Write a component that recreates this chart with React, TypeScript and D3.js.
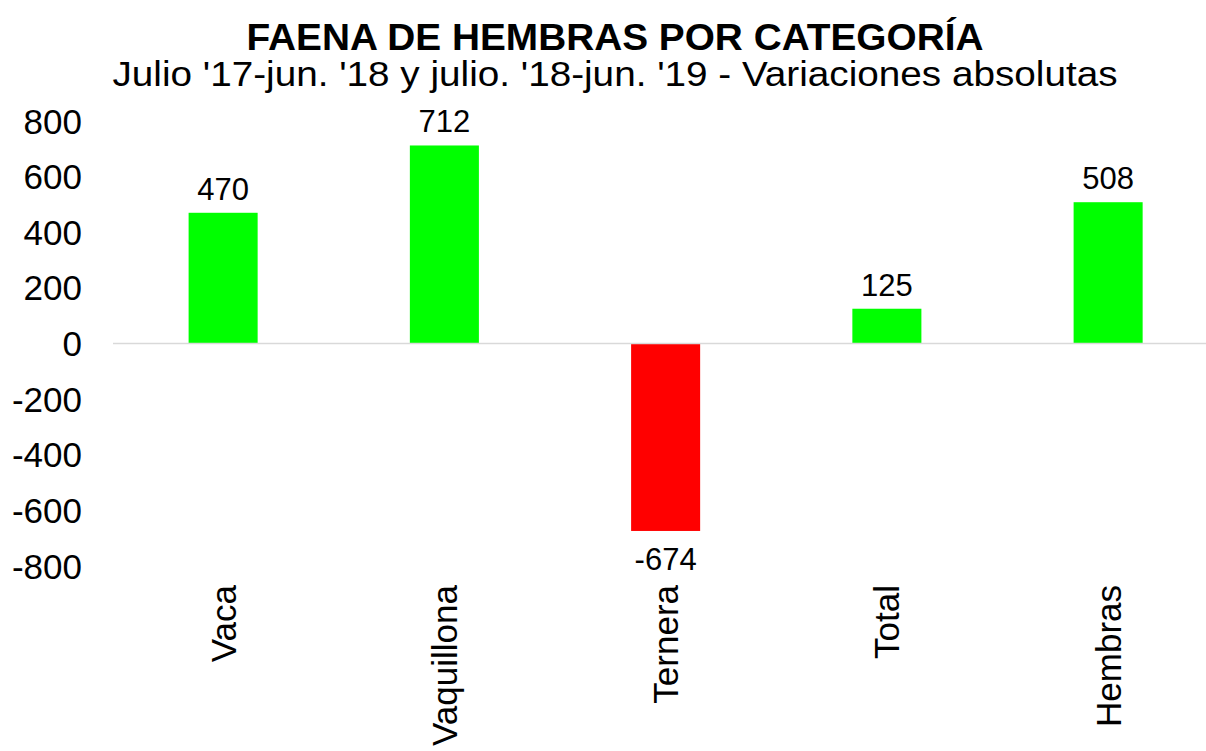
import React from 'react';
import * as d3 from 'd3';

const categories = ['Vaca', 'Vaquillona', 'Ternera', 'Total', 'Hembras'];
const values = [470, 712, -674, 125, 508];
const yTicks = [-800, -600, -400, -200, 0, 200, 400, 600, 800];
const title = 'FAENA DE HEMBRAS POR CATEGORÍA';
const subtitle = "Julio '17-jun. '18 y julio. '18-jun. '19 - Variaciones absolutas";

const W = 1206;
const H = 751;
const font = '"Liberation Sans", Arial, sans-serif';

const App = () => {
  // plot area
  const x = d3.scaleBand()
    .domain(categories)
    .range([112.5, 1218.75])
    .paddingInner(0.688)
    .paddingOuter(0.344);

  const y = d3.scaleLinear()
    .domain([-800, 800])
    .range([566, 121]);

  return (
    <svg width={W} height={H} style={{ position: 'absolute', left: 0, top: 0, background: '#fff' }} fontFamily={font}>
      <rect width={W} height={H} fill="#fff" />
      <text x={615} y={50} textAnchor="middle" fontSize={37} fontWeight="bold" fill="#000"
        textLength={737} lengthAdjust="spacingAndGlyphs">{title}</text>
      <text x={615} y={86} textAnchor="middle" fontSize={35} fill="#000"
        textLength={1005} lengthAdjust="spacingAndGlyphs">{subtitle}</text>

      {/* y axis labels */}
      {yTicks.map(t => (
        <text key={t} x={82} y={y(t)} textAnchor="end" dominantBaseline="central" fontSize={35} fill="#000">{t}</text>
      ))}

      {/* bars */}
      {categories.map((c, i) => {
        const v = values[i];
        return (
          <rect key={c}
            x={x(c)}
            y={y(Math.max(0, v))}
            width={x.bandwidth()}
            height={Math.abs(y(v) - y(0))}
            fill={v >= 0 ? '#00ff00' : '#ff0000'} />
        );
      })}

      {/* zero line */}
      <line x1={113} x2={W} y1={y(0)} y2={y(0)} stroke="#d9d9d9" strokeWidth={1.5} />

      {/* data labels */}
      {categories.map((c, i) => {
        const v = values[i];
        const cx = x(c) + x.bandwidth() / 2;
        return (
          <text key={c} x={cx} y={v >= 0 ? y(v) - 13 : y(v) + 39} textAnchor="middle" fontSize={31} fill="#000">{v}</text>
        );
      })}

      {/* category labels */}
      {categories.map(c => {
        const cx = x(c) + x.bandwidth() / 2;
        return (
          <text key={c} transform={`translate(${cx},585) rotate(-90)`} textAnchor="end" dominantBaseline="central" fontSize={35} fill="#000">{c}</text>
        );
      })}
    </svg>
  );
};

export default App;
